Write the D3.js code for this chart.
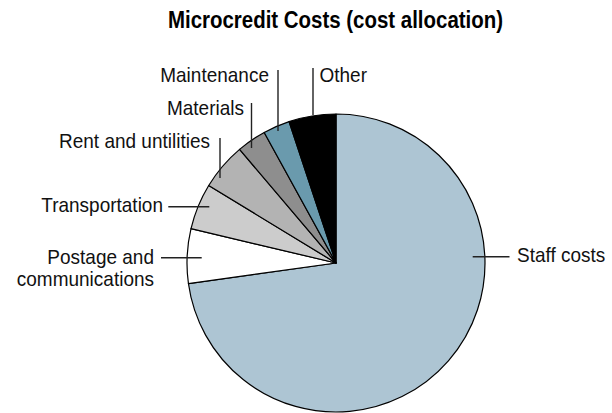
<!DOCTYPE html>
<html>
<head>
<meta charset="utf-8">
<script src="https://cdn.jsdelivr.net/npm/d3@7/dist/d3.min.js"></script>
<style>
  html, body { margin: 0; padding: 0; background: #fff; }
  svg { display: block; }
</style>
</head>
<body>
<svg id="chart" width="612" height="413"></svg>
<script>
// ---- data ----
const categories = ["Staff costs", "Postage and communications", "Transportation", "Rent and untilities", "Materials", "Maintenance", "Other"];
const values = [72.8, 5.9, 5.0, 5.1, 3.2, 2.9, 5.1];
const colors = ["#adc5d3", "#ffffff", "#cccccc", "#b3b3b3", "#8e8e8e", "#6a9aad", "#000000"];
const title = "Microcredit Costs (cost allocation)";

// ---- layout ----
const W = 612, H = 413;
const cx = 336, cy = 263, R = 149;

// label layout: text lines, anchor, text x, baseline y, leader line
const labelLayout = [
  { lines: ["Staff costs"], anchor: "start", x: 517, y: 262, line: [472.7, 256.7, 509.5, 256.7] },
  { lines: ["Postage and", "communications"], anchor: "end", x: 154, y: 263.5, line: [161, 257.7, 201.7, 257.7] },
  { lines: ["Transportation"], anchor: "end", x: 163, y: 212, line: [168.3, 206.7, 209.3, 206.7] },
  { lines: ["Rent and untilities"], anchor: "end", x: 210, y: 147.5, line: [220, 138, 220, 178] },
  { lines: ["Materials"], anchor: "end", x: 244, y: 114.5, line: [251.5, 103, 251.5, 148] },
  { lines: ["Maintenance"], anchor: "end", x: 269, y: 82, line: [278, 70, 278, 131] },
  { lines: ["Other"], anchor: "start", x: 319.5, y: 82, line: [313, 68, 313, 115] }
];

const svg = d3.select("#chart");

// title
svg.append("text")
  .attr("x", 335.5)
  .attr("y", 28.3)
  .attr("text-anchor", "middle")
  .attr("font-family", "'Liberation Sans Narrow', 'Arial Narrow', 'Liberation Sans', Arial, sans-serif")
  .attr("font-weight", "bold")
  .attr("font-size", 23.5)
  .attr("textLength", 335)
  .attr("lengthAdjust", "spacingAndGlyphs")
  .attr("fill", "#000")
  .text(title);

const data = categories.map((c, i) => ({ name: c, value: values[i], color: colors[i] }));

const pie = d3.pie().value(d => d.value).sort(null);
const arc = d3.arc().innerRadius(0).outerRadius(R);

const g = svg.append("g").attr("transform", `translate(${cx},${cy})`);
g.selectAll("path")
  .data(pie(data))
  .join("path")
  .attr("d", arc)
  .attr("fill", d => d.data.color)
  .attr("stroke", "#000")
  .attr("stroke-width", 1.2)
  .attr("stroke-linejoin", "round");

// leader lines
svg.append("g").selectAll("line")
  .data(labelLayout)
  .join("line")
  .attr("x1", d => d.line[0]).attr("y1", d => d.line[1])
  .attr("x2", d => d.line[2]).attr("y2", d => d.line[3])
  .attr("stroke", "#222")
  .attr("stroke-width", 1.4);

// labels (slightly condensed)
const lab = svg.append("g")
  .attr("font-family", "'Liberation Sans', Arial, sans-serif")
  .attr("font-size", 20)
  .attr("fill", "#111");
labelLayout.forEach(l => {
  const t = lab.append("text")
    .attr("transform", `translate(${l.x},${l.y}) scale(0.95,1)`)
    .attr("text-anchor", l.anchor);
  l.lines.forEach((s, i) => {
    t.append("tspan").attr("x", 0).attr("dy", i === 0 ? 0 : 23).text(s);
  });
});
</script>
</body>
</html>
